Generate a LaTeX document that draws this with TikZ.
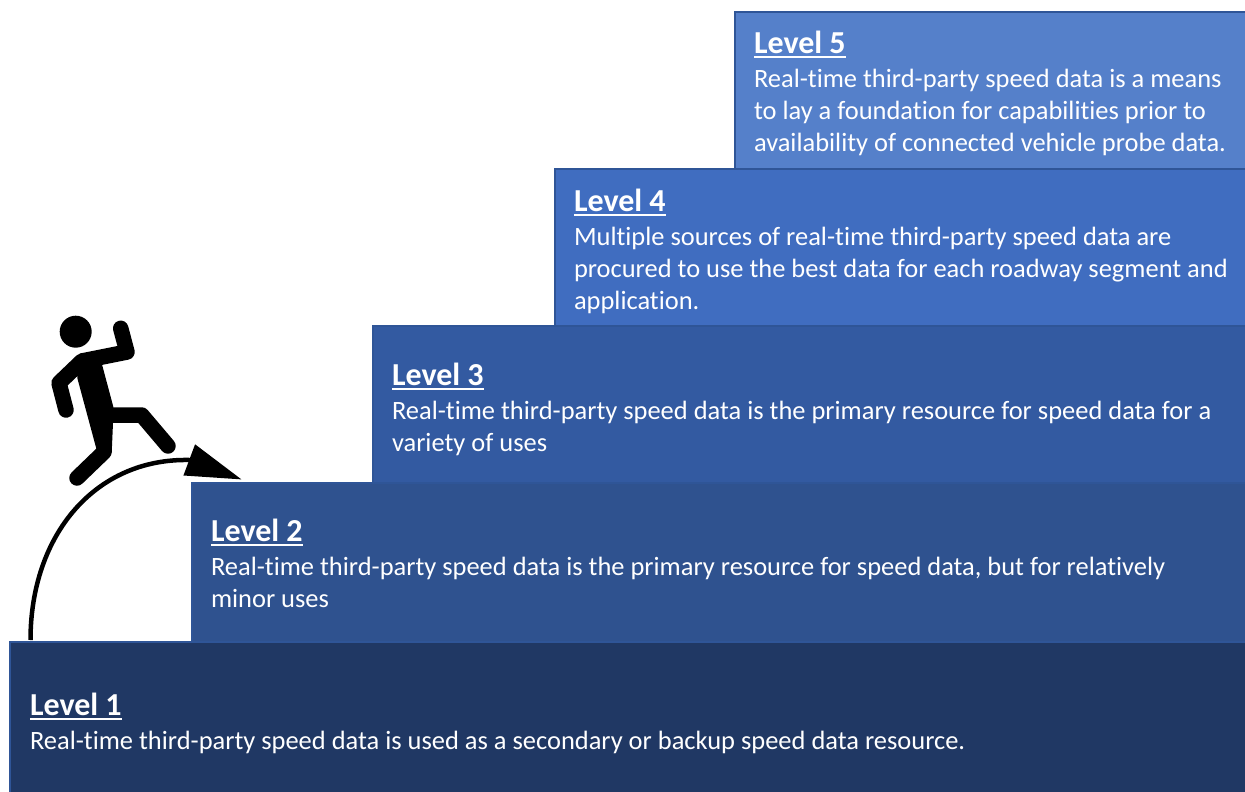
\documentclass[tikz,border=0pt]{standalone}
\usepackage{fontspec}
\setmainfont[Ligatures=NoCommon]{Carlito}
\usetikzlibrary{arrows.meta}
\definecolor{cA}{HTML}{203864}
\definecolor{cB}{HTML}{2F528F}
\definecolor{cC}{HTML}{335AA1}
\definecolor{cD}{HTML}{406DC0}
\definecolor{cE}{HTML}{5580CA}
\definecolor{edge}{HTML}{2F5597}
\newlength{\hw}
\newcommand{\lvlhead}[1]{\settowidth{\hw}{\fontsize{32}{32}\selectfont\bfseries #1}\rlap{\rule[-5pt]{\hw}{2.5pt}}{\fontsize{32}{32}\selectfont\bfseries #1}}
\tikzset{
  x=1pt,y=-1pt,
  stepbox/.style={draw=edge,line width=2pt,anchor=north west,inner sep=0pt,outer sep=0pt},
  blurb/.style={anchor=north west,inner sep=0pt,outer sep=0pt,align=left,text=white,font=\fontsize{26.45}{31.7}\selectfont},
  limb/.style={line width=15.5pt,line cap=round,line join=round,draw=black}
}
\begin{document}
\begin{tikzpicture}
\useasboundingbox (0,0) rectangle (1245,792);
\fill[white] (0,0) rectangle (1245,792);
\node[stepbox,fill=cE,minimum width=512pt,minimum height=156pt] (b5) at (734.5,12.5) {};
\node[stepbox,fill=cD,minimum width=692pt,minimum height=157pt] (b4) at (554.5,168.5) {};
\node[stepbox,fill=cC,minimum width=874pt,minimum height=157pt] (b3) at (372.5,325.5) {};
\node[stepbox,fill=cB,minimum width=1055pt,minimum height=159pt] (b2) at (191.5,482.5) {};
\node[stepbox,fill=cA,minimum width=1236pt,minimum height=152pt] (b1) at (10,641.5) {};

\node[blurb] (t5) at (754,30.8) {\lvlhead{Level 5}\\[3pt]Real-time third-party speed data is a means\\to lay a foundation for capabilities prior to\\availability of connected vehicle probe data.};
\node[blurb] (t4) at (574,188.8) {\lvlhead{Level 4}\\[3pt]Multiple sources of real-time third-party speed data are\\procured to use the best data for each roadway segment and\\application.};
\node[blurb] (t3) at (392,362.8) {\lvlhead{Level 3}\\[3pt]Real-time third-party speed data is the primary resource for speed data for a\\variety of uses};
\node[blurb] (t2) at (211,518.8) {\lvlhead{Level 2}\\[3pt]Real-time third-party speed data is the primary resource for speed data, but for relatively\\minor uses};
\node[blurb] (t1) at (30,692.8) {\lvlhead{Level 1}\\[3pt]Real-time third-party speed data is used as a secondary or backup speed data resource.};

% climbing figure
\fill (75.7,331.7) circle (16);
\draw[limb] (120.7,328.3) -- (127,352) -- (82,361) -- (59,383) -- (66,410);
\fill (80,353.3) -- (101.7,363.3) -- (113.3,406.7) -- (113,423) -- (111.7,453) -- (96.7,450) -- (77.3,378) -- cycle;
\draw[limb] (106,415) -- (141.7,415) -- (168,446);
\draw[limb] (104,452) -- (77,478);

% arc with arrow
\coordinate (arcstart) at (30.5,640);
\coordinate (arcbase) at (189.5,460);
\coordinate (arctip) at (241.7,479.5);
\draw[line width=4.5pt,-{Triangle[length=56pt,width=32pt]}] (arcstart) .. controls (30.5,535) and (95,458) .. (arcbase) -- (arctip);
\end{tikzpicture}
\end{document}
